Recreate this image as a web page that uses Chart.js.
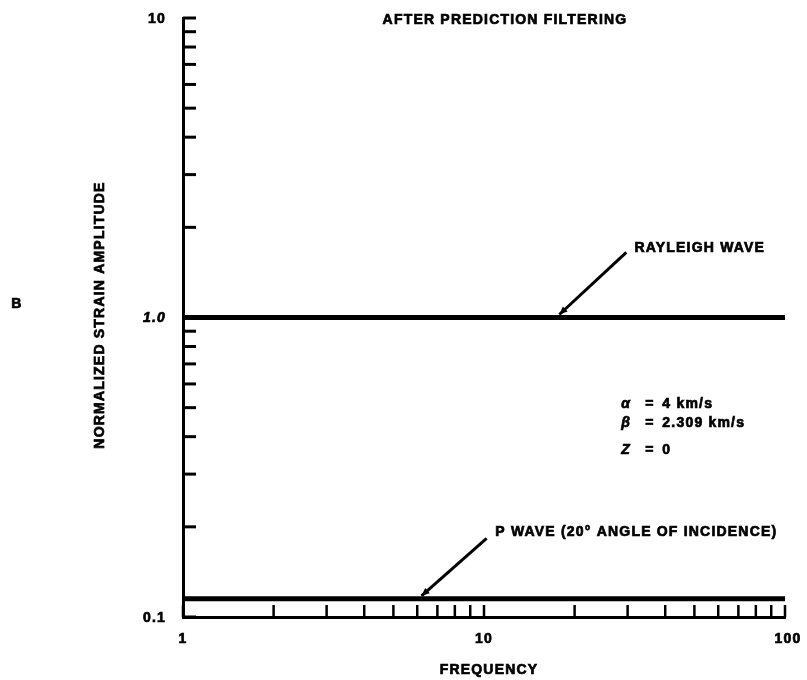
<!DOCTYPE html>
<html>
<head>
<meta charset="utf-8">
<title>After prediction filtering</title>
<script src="https://cdn.jsdelivr.net/npm/chart.js@4.4.1/dist/chart.umd.min.js"></script>
<style>
  html, body { margin: 0; padding: 0; background: #fff; }
  canvas { display: block; }
</style>
</head>
<body>
<canvas id="strainChart" width="807" height="680"></canvas>
<script>
'use strict';

// frequency span of both traces
const frequency = [1, 100];
// normalized strain amplitude after prediction filtering
const rayleighWave = [1.0, 1.0];
const pWave = [0.115, 0.115];

const xTickValues = [1, 10, 100];
const xTickLabels = ['1', '10', '100'];
const yTickValues = [0.1, 1, 10];
const yTickLabels = ['0.1', '1.0', '10'];

const paramNames = ['α', 'β', 'Z'];
const paramValues = ['4 km/s', '2.309 km/s', '0'];

// 1,2,...,9 in every decade between lo and hi
function decadeTicks(lo, hi) {
  const out = [];
  for (let d = lo; d < hi; d *= 10) {
    for (let k = 1; k < 10; k++) out.push(+(k * d).toPrecision(3));
  }
  out.push(hi);
  return out;
}

const BOLD = 'bold 14px "Liberation Sans", Arial, sans-serif';

function pointsOf(ys) {
  return frequency.map((f, i) => ({ x: f, y: ys[i] }));
}

// heavy lettering, a bit spread out like stencilled type
function label(ctx, text, x, y) {
  ctx.fillText(text, x, y);
  ctx.strokeText(text, x, y);
}

function leader(ctx, x0, y0, x1, y1) {
  // line from label (x0,y0) to tip (x1,y1) with a small head at the tip
  ctx.lineWidth = 3;
  ctx.beginPath();
  ctx.moveTo(x0, y0);
  ctx.lineTo(x1, y1);
  ctx.stroke();
  const a = Math.atan2(y1 - y0, x1 - x0);
  ctx.beginPath();
  ctx.moveTo(x1, y1);
  ctx.lineTo(x1 - 8 * Math.cos(a) + 3.5 * Math.sin(a), y1 - 8 * Math.sin(a) - 3.5 * Math.cos(a));
  ctx.lineTo(x1 - 8 * Math.cos(a) - 3.5 * Math.sin(a), y1 - 8 * Math.sin(a) + 3.5 * Math.cos(a));
  ctx.closePath();
  ctx.fill();
}

const paperAxes = {
  id: 'paperAxes',
  afterDraw(chart) {
    const { ctx, chartArea: area } = chart;
    const xs = chart.scales.x;
    const ys = chart.scales.y;
    ctx.save();
    ctx.strokeStyle = '#000';
    ctx.fillStyle = '#000';

    // inward tick marks
    ctx.lineWidth = 3;
    decadeTicks(0.1, 10).forEach(v => {
      const py = ys.getPixelForValue(v);
      ctx.beginPath();
      ctx.moveTo(area.left, py);
      ctx.lineTo(area.left + 13, py);
      ctx.stroke();
    });
    ctx.lineWidth = 2.5;
    decadeTicks(1, 100).forEach(v => {
      const px = xs.getPixelForValue(v);
      ctx.beginPath();
      ctx.moveTo(px, area.bottom);
      ctx.lineTo(px, area.bottom - 12);
      ctx.stroke();
    });

    // annotations
    leader(ctx, xs.getPixelForValue(29.7), ys.getPixelForValue(1.65),
      xs.getPixelForValue(17.8), ys.getPixelForValue(rayleighWave[0]) - 3);
    leader(ctx, xs.getPixelForValue(10.2), ys.getPixelForValue(0.183),
      xs.getPixelForValue(6.2), ys.getPixelForValue(pWave[0]) - 3);

    ctx.lineWidth = 0.7;
    ctx.letterSpacing = '1.2px';
    ctx.textBaseline = 'middle';

    // tick labels
    ctx.textAlign = 'right';
    yTickValues.forEach((v, i) => {
      ctx.font = v === 1 ? 'italic ' + BOLD : BOLD;
      label(ctx, yTickLabels[i], area.left - 17, ys.getPixelForValue(v) + 1);
    });
    ctx.font = BOLD;
    ctx.textAlign = 'center';
    xTickValues.forEach((v, i) => {
      label(ctx, xTickLabels[i], xs.getPixelForValue(v) + (i === 2 ? 3 : 0), area.bottom + 22);
    });

    // titles
    label(ctx, 'AFTER PREDICTION FILTERING', 505, 20);
    label(ctx, 'FREQUENCY', 489, 670);
    label(ctx, 'B', 17, 304);
    ctx.save();
    ctx.translate(100, 315);
    ctx.rotate(-Math.PI / 2);
    label(ctx, 'NORMALIZED STRAIN AMPLITUDE', 0, 0);
    ctx.restore();

    ctx.textAlign = 'left';
    label(ctx, 'RAYLEIGH WAVE', xs.getPixelForValue(31.6), ys.getPixelForValue(1.70));
    label(ctx, 'P WAVE (20° ANGLE OF INCIDENCE)', xs.getPixelForValue(10.9), ys.getPixelForValue(0.192));

    // medium parameters
    const paramY = [0.513, 0.443, 0.36];
    const px0 = xs.getPixelForValue(28.6);
    paramNames.forEach((n, i) => {
      const py = ys.getPixelForValue(paramY[i]);
      ctx.font = 'italic ' + BOLD;
      label(ctx, n, px0, py);
      ctx.font = BOLD;
      label(ctx, '=', px0 + 24, py);
      label(ctx, paramValues[i], px0 + 41, py);
    });
    ctx.restore();
  }
};

const logAxis = (min, max) => ({
  type: 'logarithmic',
  min: min,
  max: max,
  grid: { display: false, drawTicks: false },
  ticks: { display: false },
  border: { display: true, color: '#000', width: 3 }
});

const ctx = document.getElementById('strainChart');
const strainChart = new Chart(ctx, {
  type: 'line',
  data: {
    datasets: [{
      label: 'Rayleigh wave',
      data: pointsOf(rayleighWave)
    }, {
      label: 'P wave',
      data: pointsOf(pWave)
    }]
  },
  options: {
    responsive: false,
    animation: false,
    layout: { padding: { left: 183, right: 22, top: 18, bottom: 63 } },
    elements: {
      point: { radius: 0 },
      line: { borderColor: '#000', borderWidth: 5, tension: 0 }
    },
    plugins: {
      legend: { display: false },
      tooltip: { enabled: false }
    },
    scales: {
      x: logAxis(1, 100),
      y: logAxis(0.1, 10)
    }
  },
  plugins: [paperAxes]
});
</script>
</body>
</html>
